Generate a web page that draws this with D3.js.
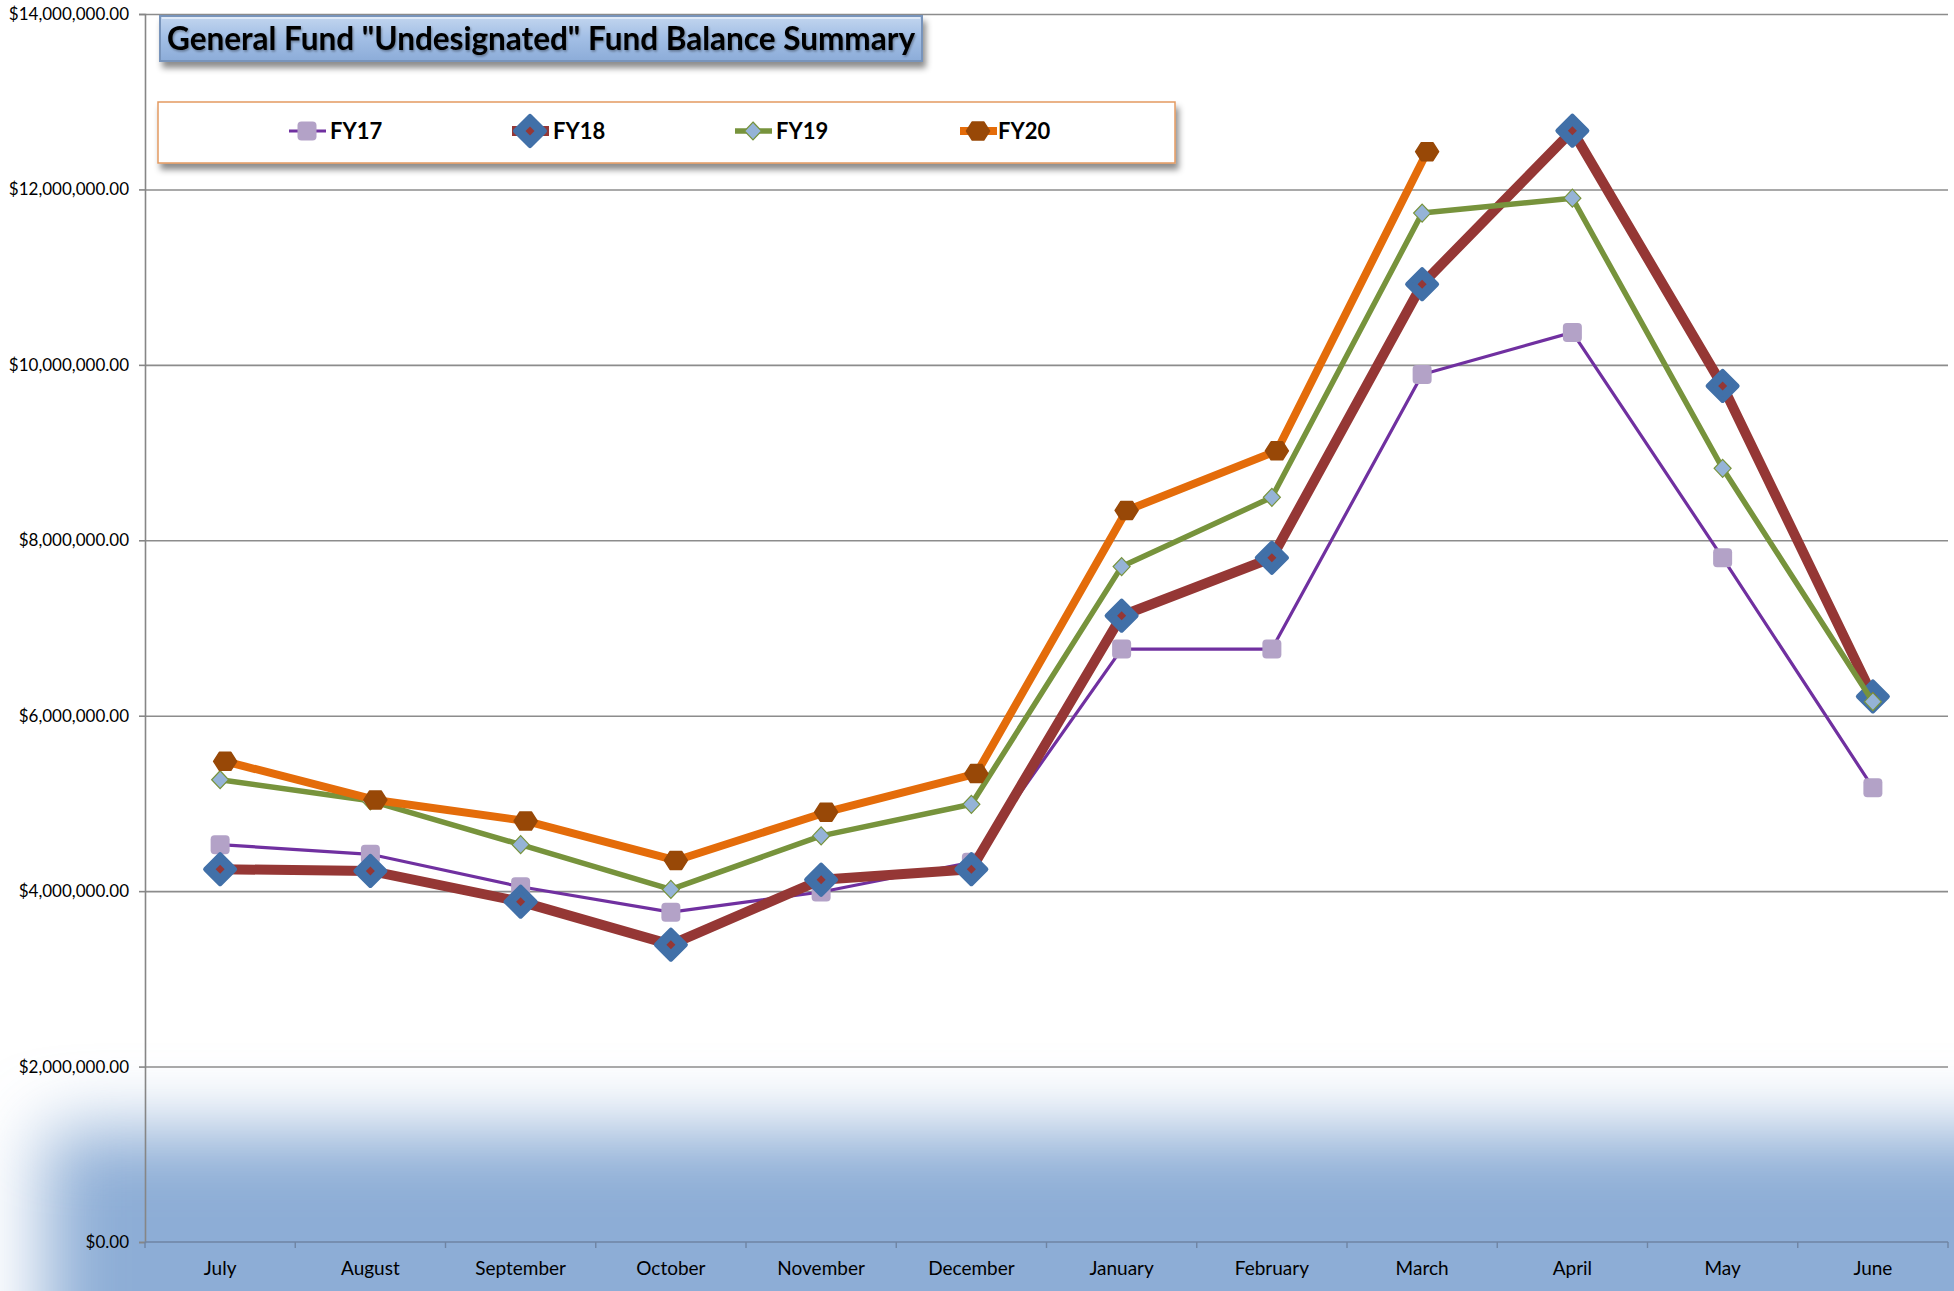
<!DOCTYPE html>
<html>
<head>
<meta charset="utf-8">
<script src="https://cdn.jsdelivr.net/npm/d3@7"></script>
<style>
  html, body { margin: 0; padding: 0; background: #fff; }
  svg { display: block; font-family: Lato, "Open Sans", sans-serif; }
</style>
</head>
<body>
<svg id="chart" width="1954" height="1291"></svg>
<script>
// data
var months = ["July","August","September","October","November","December","January","February","March","April","May","June"];
var fy17 = [4530000,4420000,4050000,3760000,3990000,4330000,6760000,6760000,9890000,10370000,7800000,5180000];
var fy18 = [4250000,4230000,3880000,3390000,4130000,4250000,7140000,7800000,10920000,12670000,9760000,6220000];
var fy19 = [5270000,5030000,4530000,4020000,4630000,4990000,7700000,8490000,11730000,11900000,8820000,6160000];
var fy20 = [5480000,5040000,4800000,4350000,4900000,5340000,8340000,9020000,12430000,null,null,null];
var yTicks = [0,2000000,4000000,6000000,8000000,10000000,12000000,14000000];
var seriesNames = ["FY17","FY18","FY19","FY20"];

var svg = d3.select("#chart");
var margin = {top: 14, right: 6, bottom: 49, left: 145},
    width = 1954 - margin.left - margin.right,
    height = 1291 - margin.top - margin.bottom;

var defs = svg.append("defs");

// soft blue glow at the bottom
var blur = defs.append("filter").attr("id", "softblur")
    .attr("filterUnits", "userSpaceOnUse")
    .attr("x", -200).attr("y", 900).attr("width", 2400).attr("height", 700);
blur.append("feGaussianBlur").attr("stdDeviation", 36);

var shadow = defs.append("filter").attr("id", "boxshadow")
    .attr("x", "-5%").attr("y", "-30%").attr("width", "110%").attr("height", "180%");
shadow.append("feDropShadow").attr("dx", 3).attr("dy", 6).attr("stdDeviation", 3)
    .attr("flood-color", "#000").attr("flood-opacity", 0.45);

var txtshadow = defs.append("filter").attr("id", "txtshadow");
txtshadow.append("feDropShadow").attr("dx", 1).attr("dy", 1.5).attr("stdDeviation", 1)
    .attr("flood-color", "#000").attr("flood-opacity", 0.35);

var grad = defs.append("linearGradient").attr("id", "titlegrad")
    .attr("x1", 0).attr("y1", 0).attr("x2", 0).attr("y2", 1);
grad.append("stop").attr("offset", "0%").attr("stop-color", "#c3d6ef");
grad.append("stop").attr("offset", "45%").attr("stop-color", "#a4c0e6");
grad.append("stop").attr("offset", "100%").attr("stop-color", "#8cacd8");

svg.append("rect")
    .attr("x", 45).attr("y", 1130)
    .attr("width", 2000).attr("height", 400)
    .attr("fill", "#8dadd6")
    .attr("filter", "url(#softblur)");

var g = svg.append("g").attr("transform", "translate(" + margin.left + "," + margin.top + ")");

var x = d3.scaleBand().domain(months).range([0, width]).padding(0);
var y = d3.scaleLinear().domain([0, 14000000]).range([height, 0]);
function cx(i) { return x(months[i]) + x.bandwidth() / 2; }

// gridlines
g.append("g")
    .attr("class", "grid")
    .call(d3.axisLeft(y).tickValues(yTicks.slice(1)).tickSize(-width).tickFormat(""))
    .call(function(s) { s.select(".domain").remove(); })
    .selectAll("line")
    .attr("stroke", "#8c8c8c")
    .attr("stroke-width", 1.6);

// y axis
var yAxis = g.append("g")
    .call(d3.axisLeft(y).tickValues(yTicks).tickSize(6).tickPadding(10).tickFormat(d3.format("$,.2f")));
yAxis.select(".domain").attr("stroke", "#868686").attr("stroke-width", 1.6);
yAxis.selectAll(".tick line").attr("stroke", "#868686").attr("stroke-width", 1.6);
yAxis.selectAll("text")
    .attr("fill", "#000")
    .attr("font-size", 17)
    .attr("font-family", "Lato, sans-serif");

// x axis: line, boundary ticks, labels
var xAxis = g.append("g").attr("transform", "translate(0," + height + ")");
xAxis.append("line").attr("x1", 0).attr("x2", width)
    .attr("stroke", "#6f84a3").attr("stroke-width", 1.6);
xAxis.selectAll(".bt")
    .data(months.concat(["end"]))
    .enter().append("line")
    .attr("class", "bt")
    .attr("x1", function(d) { return d === "end" ? width : x(d); })
    .attr("x2", function(d) { return d === "end" ? width : x(d); })
    .attr("y1", 0).attr("y2", 6)
    .attr("stroke", "#6f84a3").attr("stroke-width", 1.4);
xAxis.selectAll(".ml")
    .data(months)
    .enter().append("text")
    .attr("class", "ml")
    .attr("x", function(d) { return x(d) + x.bandwidth() / 2; })
    .attr("y", 33)
    .attr("text-anchor", "middle")
    .attr("font-size", 19)
    .attr("fill", "#000")
    .text(function(d) { return d; });

// marker shapes
function diamond(w, h) {
    return "M0," + (-h/2) + "L" + (w/2) + ",0L0," + (h/2) + "L" + (-w/2) + ",0Z";
}
function hexagon(w, h) {
    var a = w / 2, b = w / 4, c = h / 2;
    return "M" + (-a) + ",0L" + (-b) + "," + (-c) + "L" + b + "," + (-c) + "L" + a + ",0L" + b + "," + c + "L" + (-b) + "," + c + "Z";
}

var styles = {
    FY17: {line: "#7030a0", width: 3.2, dx: 0},
    FY18: {line: "#953735", width: 10, dx: 0},
    FY19: {line: "#77933c", width: 5.5, dx: 0},
    FY20: {line: "#e46c0a", width: 8, dx: 5}
};

function drawMarker(sel, name, scale) {
    scale = scale || 1;
    if (name === "FY17") {
        sel.append("rect")
            .attr("x", -9.5 * scale).attr("y", -9.5 * scale)
            .attr("width", 19 * scale).attr("height", 19 * scale)
            .attr("rx", 4).attr("fill", "#b3a2c7");
    } else if (name === "FY18") {
        sel.append("path").attr("d", diamond(29 * scale, 29 * scale))
            .attr("fill", "#4170a8").attr("stroke", "#4170a8")
            .attr("stroke-width", 5).attr("stroke-linejoin", "round");
        sel.append("path").attr("d", diamond(9, 9)).attr("fill", "#953735");
    } else if (name === "FY19") {
        sel.append("path").attr("d", diamond(17 * scale, 18 * scale))
            .attr("fill", "#95b3d7").attr("stroke", "#77933c").attr("stroke-width", 1.2);
    } else {
        sel.append("path").attr("d", hexagon(23 * scale, 18 * scale))
            .attr("fill", "#984807").attr("stroke", "#984807")
            .attr("stroke-width", 1.5).attr("stroke-linejoin", "round");
    }
}

var allSeries = [fy17, fy18, fy19, fy20];

allSeries.forEach(function(vals, k) {
    var name = seriesNames[k];
    var off = styles[name].dx;
    var line = d3.line()
        .defined(function(d) { return d != null; })
        .x(function(d, i) { return cx(i) + off; })
        .y(function(d) { return y(d); });
    var sg = g.append("g").attr("class", "series");
    sg.append("path")
        .datum(vals)
        .attr("fill", "none")
        .attr("stroke", styles[name].line)
        .attr("stroke-width", styles[name].width)
        .attr("stroke-linejoin", "round")
        .attr("d", line);
    sg.selectAll(".m")
        .data(vals.map(function(v, i) { return {v: v, i: i}; }).filter(function(d) { return d.v != null; }))
        .enter().append("g")
        .attr("class", "m")
        .attr("transform", function(d) { return "translate(" + (cx(d.i) + off) + "," + y(d.v) + ")"; })
        .each(function() { drawMarker(d3.select(this), name); });
});

// title box
var title = svg.append("g").attr("transform", "translate(160,16)");
title.append("rect")
    .attr("width", 762).attr("height", 45)
    .attr("fill", "url(#titlegrad)")
    .attr("stroke", "#7894bb").attr("stroke-width", 2)
    .attr("filter", "url(#boxshadow)");
title.append("line").attr("x1", 2).attr("x2", 760).attr("y1", 2).attr("y2", 2)
    .attr("stroke", "#dfe9f7").attr("stroke-width", 2);
title.append("text")
    .attr("x", 7).attr("y", 34)
    .attr("font-size", 32).attr("font-weight", "bold")
    .attr("fill", "#000")
    .attr("filter", "url(#txtshadow)")
    .attr("textLength", 748).attr("lengthAdjust", "spacingAndGlyphs")
    .text('General Fund "Undesignated" Fund Balance Summary');

// legend box
var legend = svg.append("g").attr("transform", "translate(158,102)");
legend.append("rect")
    .attr("width", 1017).attr("height", 61)
    .attr("fill", "#fff")
    .attr("stroke", "#e39a62").attr("stroke-width", 1.5)
    .attr("filter", "url(#boxshadow)");

var legendX = [307, 530, 753, 978];
var li = legend.selectAll(".li")
    .data(seriesNames)
    .enter().append("g")
    .attr("class", "li")
    .attr("transform", function(d, i) { return "translate(" + (legendX[i] - 158) + ",29)"; });
li.append("line")
    .attr("x1", -18).attr("x2", 19)
    .attr("stroke", function(d) { return styles[d].line; })
    .attr("stroke-width", function(d) { return styles[d].width; });
li.each(function(d) { drawMarker(d3.select(this), d); });
li.append("text")
    .attr("x", function(d) { return d === "FY20" ? 20 : 23; })
    .attr("dy", "0.36em")
    .attr("font-size", 22).attr("font-weight", "bold")
    .attr("fill", "#000")
    .text(function(d) { return d; });
</script>
</body>
</html>
